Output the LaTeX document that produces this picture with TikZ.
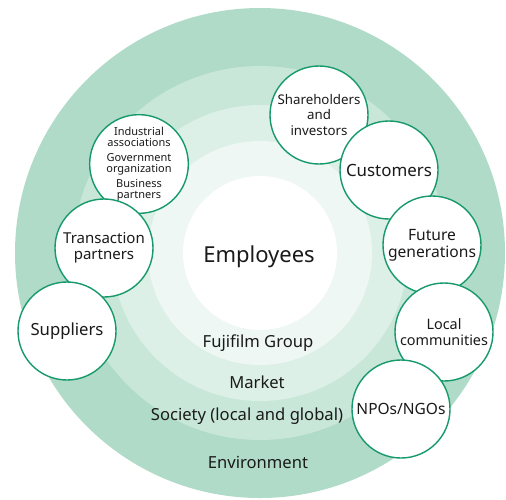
\documentclass[tikz,border=0pt]{standalone}
\usepackage{fontspec}
\setmainfont{Noto Sans}
\usepackage{xcolor}
\usetikzlibrary{positioning}

\definecolor{envgreen}{HTML}{B0DBC8}
\definecolor{socgreen}{HTML}{C8E7D9}
\definecolor{mktgreen}{HTML}{DDF0E7}
\definecolor{grpgreen}{HTML}{EEF7F3}
\definecolor{ringline}{HTML}{16996B}
\definecolor{ink}{HTML}{1A1A1A}

\begin{document}
\begin{tikzpicture}[x=1pt,y=-1pt,
                    main node/.style={circle,draw=ringline,fill=white,line width=1.4pt,
                      minimum size=98pt,inner sep=0pt,align=center,text=ink},
                    ring label/.style={text=ink,font=\fontsize{16.6}{19}\selectfont}]

  \useasboundingbox (0,0) rectangle (506,499);

  % rings
  \fill[envgreen] (260,253) circle (245);
  \fill[socgreen] (260,253) circle (187);
  \fill[mktgreen] (260,253) circle (148);
  \fill[grpgreen] (260,253) circle (112);
  \fill[white]    (260,253) circle (77);

  \node[text=ink,font=\fontsize{22}{26}\selectfont] (0) at (259,257) {Employees};
  \node[ring label] (grp) at (258,343) {Fujifilm Group};
  \node[ring label] (mkt) at (257,382) {Market};
  \node[ring label] (soc) at (247,416) {Society (local and global)};
  \node[ring label] (env) at (258,462) {Environment};

  % stakeholders, right side
  \node[main node,font=\fontsize{13.3}{15.7}\selectfont] (1) at (319,115)
    {Shareholders\\and\\investors};
  \node[main node,font=\fontsize{16.9}{19}\selectfont] (2) at (389,170) {Customers};
  \node[main node,font=\fontsize{15.6}{17}\selectfont] (3) at (432,245)
    {Future\\generations};
  \node[main node,font=\fontsize{14.4}{16.5}\selectfont] (4) at (444,332)
    {Local\\communities};
  \node[main node,font=\fontsize{15.5}{18}\selectfont] (5) at (401,409) {NPOs/NGOs};

  % stakeholders, left side
  \node[main node,font=\fontsize{11}{11}\selectfont] (6) at (139,164)
    {Industrial\\associations\\[4pt]Government\\organization\\[4pt]Business\\partners};
  \node[main node,font=\fontsize{15}{16.5}\selectfont] (7) at (104,248)
    {Transaction\\partners};
  \node[main node,font=\fontsize{16.7}{19}\selectfont] (8) at (67,331) {Suppliers};

\end{tikzpicture}
\end{document}
